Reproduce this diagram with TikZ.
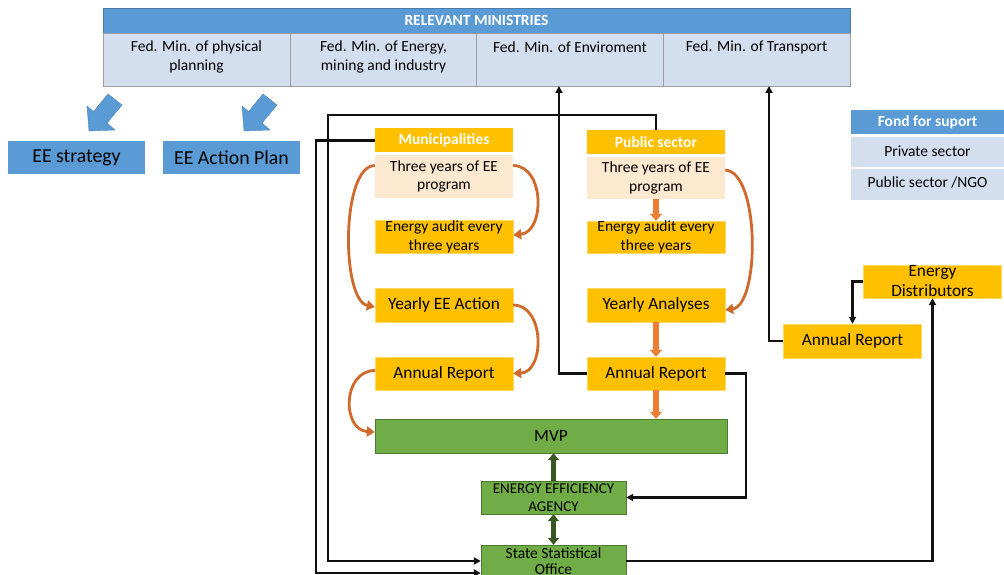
\documentclass[tikz,border=0pt]{standalone}
\usepackage{fontspec}
\setmainfont{Carlito}
\usetikzlibrary{arrows.meta}
\definecolor{hblue}{HTML}{5B9BD5}
\definecolor{lblue}{HTML}{D3DEEF}
\definecolor{gold}{HTML}{FFC000}
\definecolor{peach}{HTML}{FDE8D0}
\definecolor{lgreen}{HTML}{70AD47}
\definecolor{dgreen}{HTML}{385723}
\definecolor{orng}{HTML}{ED7D31}
\definecolor{brorng}{HTML}{CF6A2C}
\definecolor{lineblk}{HTML}{111111}
\begin{document}
\begin{tikzpicture}[x=1pt,y=-1pt,
  fs/.style={font=\fontsize{15.5}{18.5}\selectfont},
  fl/.style={font=\fontsize{17.3}{20}\selectfont},
  minhead/.style={fill=hblue,draw=hblue!80!black,line width=0.4pt,inner sep=0pt,minimum width=747pt,minimum height=25pt,text=white,font=\fontsize{15.5}{16}\bfseries\selectfont},
  mincell/.style={fill=lblue,draw=gray!75,line width=0.6pt,inner sep=0pt,minimum width=187pt,minimum height=53pt},
  mintxt/.style={font=\fontsize{15.5}{19.5}\selectfont,align=center,inner sep=0pt},
  ybox/.style={fill=gold,draw=gold!60!white,line width=0.4pt,inner sep=0pt,align=center,minimum width=138pt,fs},
  pbox/.style={fill=peach,inner sep=0pt,align=center,minimum width=138pt,fs},
  hbox/.style={fill=gold,inner sep=0pt,minimum width=138pt,text=white,font=\fontsize{15.5}{18}\bfseries\selectfont},
  gbox/.style={fill=lgreen,draw=lgreen!70!black,line width=0.4pt,inner sep=0pt,align=center,fs},
  bbox/.style={fill=hblue,inner sep=0pt,minimum width=137pt,minimum height=33pt,font=\fontsize{19.8}{22}\selectfont},
  conn/.style={draw=lineblk,line width=2.2pt,-{Triangle[length=7pt,width=7pt]}},
  oarr/.style={draw=orng,line width=6pt,-{Triangle[length=7pt,width=12pt]}},
  carr/.style={draw=brorng,line width=2.8pt,-{Triangle[length=8pt,width=10pt]}},
  garr/.style={draw=dgreen,line width=5.5pt,-{Triangle[length=7pt,width=11pt]}},
  gdarr/.style={draw=dgreen,line width=5.5pt,{Triangle[length=7pt,width=11pt]}-{Triangle[length=7pt,width=11pt]}},
  blarrow/.style={fill=hblue,draw=hblue!85!black,line width=0.4pt}
]
\clip (0,0) rectangle (1004,575);
\fill[white] (0,0) rectangle (1004,575);

% Ministries table
\node[minhead] (minH) at (476.5,20.5) {RELEVANT MINISTRIES};
\node[mincell] (m1) at (196.5,59.5) {};
\node[mincell] (m2) at (383.5,59.5) {};
\node[mincell] (m3) at (570,59.5) {};
\node[mincell] (m4) at (756.5,59.5) {};
\node[mintxt] (m1t) at (196.5,57) {Fed. Min. of physical\\planning};
\node[mintxt] (m2t) at (383.5,57) {Fed. Min. of Energy,\\mining and industry};
\node[mintxt] (m3t) at (570,47.5) {Fed. Min. of Enviroment};
\node[mintxt] (m4t) at (756.5,47.5) {Fed. Min. of Transport};

% Blue block arrows
\path[blarrow] (108,94) -- (122,105) -- (107,123) -- (115,130) -- (89,131) -- (87,106) -- (93.5,111.6) -- cycle;
\path[blarrow] (263,94) -- (277,105) -- (262,123) -- (270,130) -- (244,131) -- (242,106) -- (248.5,111.6) -- cycle;

\node[bbox] (eestr) at (76.5,157.5) {EE strategy};
\node[bbox] (eeap) at (231.5,157.5) {EE Action Plan};

% Fond for support
\node[fill=hblue,inner sep=0pt,minimum width=153pt,minimum height=24pt,text=white,font=\fontsize{15.5}{18}\bfseries\selectfont] (fondH) at (927.5,122) {Fond for suport};
\node[fill=lblue,inner sep=0pt,minimum width=153pt,minimum height=30pt,fs] (fondP) at (927.5,152.5) {\raisebox{3pt}{Private sector}};
\node[fill=lblue,inner sep=0pt,minimum width=153pt,minimum height=31pt,fs] (fondN) at (927.5,184) {\raisebox{3pt}{Public sector /NGO}};
\draw[white,line width=0.8pt] (fondP.south west) -- (fondP.south east);

% Municipalities column
\node[hbox,minimum height=24pt] (muniH) at (444,140.5) {Municipalities};
\node[pbox,minimum height=42pt] (muni3) at (444,176.5) {Three years of EE\\program};
\node[ybox,minimum height=33pt] (muniA) at (444,237) {Energy audit every\\three years};
\node[ybox,minimum height=34pt,fl] (muniY) at (444,305) {Yearly EE Action};
\node[ybox,minimum height=33pt,fl] (muniR) at (444,373.5) {Annual Report};

% Public sector column
\node[hbox,minimum height=24pt] (pubH) at (656,142) {Public sector};
\node[pbox,minimum height=42pt] (pub3) at (656,178) {Three years of EE\\program};
\node[ybox,minimum height=32pt] (pubA) at (656,237) {Energy audit every\\three years};
\node[ybox,minimum height=34pt,fl] (pubY) at (656,305) {Yearly Analyses};
\node[ybox,minimum height=33pt,fl] (pubR) at (656,373.5) {Annual Report};

% Green boxes
\node[gbox,minimum width=352pt,minimum height=34pt,fl] (mvp) at (551,436) {MVP};
\node[gbox,minimum width=145pt,minimum height=33pt,font=\fontsize{15}{18}\selectfont] (eea) at (553.5,497.5) {ENERGY EFFICIENCY\\AGENCY};
\node[gbox,minimum width=145pt,minimum height=36pt] (sso) at (553.5,563) {\raisebox{5pt}{\begin{tabular}{@{}c@{}}State Statistical\\[-3pt]Office\end{tabular}}};

% Right side boxes
\node[ybox,minimum height=33pt,fl,font=\fontsize{17.3}{20}\selectfont] (enD) at (932.5,281.5) {Energy\\Distributors};
\node[ybox,minimum height=34pt,fl] (annR) at (852.5,341) {Annual Report};

% Coordinates for connector corners
\coordinate (cA) at (316,573);
\coordinate (cB1) at (328,115);
\coordinate (cB2) at (328,561);
\coordinate (cC) at (559,86);
\coordinate (cD) at (769,86);
\coordinate (cE) at (746,497.5);

% Black connectors
\draw[conn] (muniH.west) -| (cA) -- (cA -| sso.west);
\draw[conn] (pubH.north) |- (cB1) -- (cB2) -- (cB2 -| sso.west);
\draw[conn] (pubR.west) -| (cC);
\draw[conn] (annR.west) -| (cD);
\draw[conn] (pubR.east) -| (cE) -- (eea.east);
\draw[conn] (sso.east |- cB2) -| (enD.south);
\draw[conn] (enD.west) -| (annR.north);

% Orange curved arrows (municipalities)
\draw[carr] ([yshift=11pt]muni3.west) .. controls (341,166) and (341,300) .. ([yshift=-2pt]muniY.west);
\draw[carr] ([yshift=11pt]muni3.east) .. controls (545,166) and (545,232) .. ([yshift=2pt]muniA.east);
\draw[carr] (muniY.east) .. controls (545,305) and (545,372) .. (muniR.east);
\draw[carr] ([yshift=3pt]muniR.west) .. controls (342,371) and (342,430) .. ([yshift=4pt]mvp.west);
% Public sector
\draw[carr] ([yshift=8pt]pub3.east) .. controls (760,172) and (760,305) .. ([yshift=-5pt]pubY.east);
\draw[oarr] (pub3.south) -- (pubA.north);
\draw[oarr] (pubY.south) -- (pubR.north);
\draw[oarr] (pubR.south) -- (pubR.south |- mvp.north);

% Green arrows
\draw[garr] (eea.north) -- (mvp.south -| eea.north);
\draw[gdarr] (eea.south) -- (sso.north);
\end{tikzpicture}
\end{document}
